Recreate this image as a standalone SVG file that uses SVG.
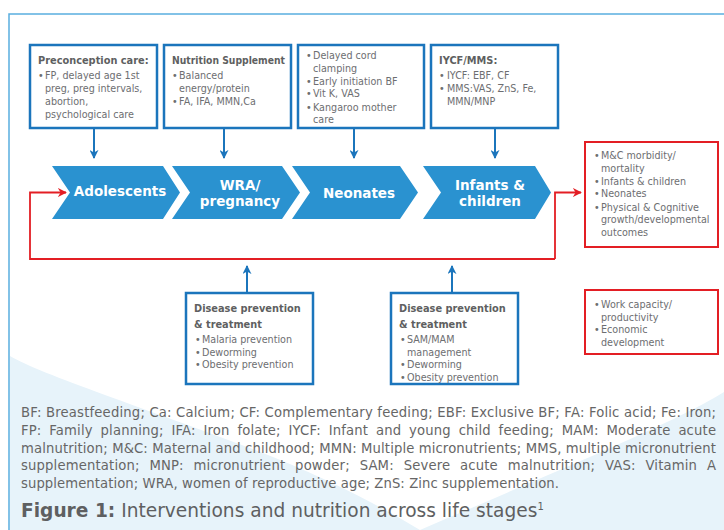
<svg xmlns="http://www.w3.org/2000/svg" width="724" height="530" viewBox="0 0 724 530">
<defs>
<style>
.box{fill:#fff;stroke:#1b75bc;stroke-width:2.5}
.rbox{fill:#fff;stroke:#e31e24;stroke-width:2}
.chev{fill:#2a92d0}
.t{font-family:"DejaVu Sans",sans-serif;font-size:9.6px;fill:#6d6e71}
.tb{font-family:"DejaVu Sans",sans-serif;font-size:9.8px;font-weight:bold;fill:#5e5f61}
.cl{font-family:"DejaVu Sans",sans-serif;font-size:13.5px;font-weight:bold;fill:#fff;text-anchor:middle}
.fn{font-family:"DejaVu Sans",sans-serif;font-size:13.2px;fill:#666}
.cap{font-family:"DejaVu Sans",sans-serif;font-size:18.6px;fill:#5e5f61}
.ba{stroke:#1b75bc;stroke-width:2;fill:none}
.ra{stroke:#e31e24;stroke-width:1.8;fill:none}
</style>
<marker id="mb" viewBox="0 0 10 10" refX="9" refY="5" markerWidth="9" markerHeight="9" markerUnits="userSpaceOnUse" orient="auto"><path d="M0,0 L10,5 L0,10 L3,5 z" fill="#1b75bc"/></marker>
<marker id="mr" viewBox="0 0 10 10" refX="9" refY="5" markerWidth="9" markerHeight="9" markerUnits="userSpaceOnUse" orient="auto"><path d="M0,0 L10,5 L0,10 L3,5 z" fill="#e31e24"/></marker>
</defs>
<rect x="0" y="0" width="724" height="530" fill="#fff"/>
<path d="M10,356 C40,374 150,410 250,448 C320,475 370,500 420,530 L10,530 Z" fill="#e7f3fa"/>
<path d="M724,392 C680,420 560,470 420,530 L724,530 Z" fill="#e7f3fa"/>
<path d="M9,530 V14 H724" fill="none" stroke="#5aaee0" stroke-width="1.5"/>

<g id="connectors">
<line class="ba" x1="94" y1="129" x2="94" y2="158" marker-end="url(#mb)"/>
<line class="ba" x1="224" y1="129" x2="224" y2="158" marker-end="url(#mb)"/>
<line class="ba" x1="354" y1="129" x2="354" y2="158" marker-end="url(#mb)"/>
<line class="ba" x1="495" y1="129" x2="495" y2="158" marker-end="url(#mb)"/>
<line class="ba" x1="247" y1="292" x2="247" y2="266" marker-end="url(#mb)"/>
<line class="ba" x1="452" y1="292" x2="452" y2="266" marker-end="url(#mb)"/>
<path class="ra" d="M555,259 V192.5 H581" marker-end="url(#mr)"/>
<path class="ra" d="M555,259 H30 V192.5 H66" marker-end="url(#mr)"/>
</g>

<g id="preconception">
<rect class="box" x="30" y="45" width="127" height="83"/>
<text class="tb" x="38" y="64.3">Preconception care:</text>
<text class="t" y="79.3"><tspan x="38">•</tspan><tspan x="45">FP, delayed age 1st</tspan></text>
<text class="t" x="45" y="92.3">preg, preg intervals,</text>
<text class="t" x="45" y="105.3">abortion,</text>
<text class="t" x="45" y="118.3">psychological care</text>
</g>

<g id="nutrition">
<rect class="box" x="164" y="45" width="127" height="83"/>
<text class="tb" x="172" y="64.3" textLength="113" lengthAdjust="spacingAndGlyphs">Nutrition Supplement</text>
<text class="t" y="79.3"><tspan x="172">•</tspan><tspan x="179">Balanced</tspan></text>
<text class="t" x="179" y="92.3">energy/protein</text>
<text class="t" y="105.3"><tspan x="172">•</tspan><tspan x="179">FA, IFA, MMN,Ca</tspan></text>
</g>

<g id="neonatal-care">
<rect class="box" x="298" y="45" width="126" height="83"/>
<text class="t" y="59"><tspan x="306">•</tspan><tspan x="313">Delayed cord</tspan></text>
<text class="t" x="313" y="71.5">clamping</text>
<text class="t" y="84.5"><tspan x="306">•</tspan><tspan x="313">Early initiation BF</tspan></text>
<text class="t" y="97"><tspan x="306">•</tspan><tspan x="313">Vit K, VAS</tspan></text>
<text class="t" y="110.5"><tspan x="306">•</tspan><tspan x="313">Kangaroo mother</tspan></text>
<text class="t" x="313" y="123">care</text>
</g>

<g id="iycf">
<rect class="box" x="431" y="45" width="127" height="83"/>
<text class="tb" x="439" y="64.3">IYCF/MMS:</text>
<text class="t" y="79.3"><tspan x="439">•</tspan><tspan x="447">IYCF: EBF, CF</tspan></text>
<text class="t" y="92.3"><tspan x="439">•</tspan><tspan x="447">MMS:VAS, ZnS, Fe,</tspan></text>
<text class="t" x="447" y="105.3">MMN/MNP</text>
</g>

<g id="adolescents">
<path class="chev" d="M52,166 H163 L180,192.5 L163,219 H52 L70,192.5 Z"/>
<text class="cl" x="120" y="196">Adolescents</text>
</g>
<g id="wra">
<path class="chev" d="M172,166 H282 L300,192.5 L282,219 H172 L190,192.5 Z"/>
<text class="cl" x="240" y="190">WRA/</text>
<text class="cl" x="240" y="205.5">pregnancy</text>
</g>
<g id="neonates">
<path class="chev" d="M292,166 H400 L418,192.5 L400,219 H292 L310,192.5 Z"/>
<text class="cl" x="359" y="197.5">Neonates</text>
</g>
<g id="infants">
<path class="chev" d="M423,166 H535 L551,192.5 L535,219 H423 L441,192.5 Z"/>
<text class="cl" x="490" y="190">Infants &amp;</text>
<text class="cl" x="490" y="205.5">children</text>
</g>

<g id="outcomes-health">
<rect class="rbox" x="585" y="142" width="133" height="105"/>
<text class="t" y="159"><tspan x="594">•</tspan><tspan x="601">M&amp;C morbidity/</tspan></text>
<text class="t" x="601" y="171.5">mortality</text>
<text class="t" y="184.5"><tspan x="594">•</tspan><tspan x="601">Infants &amp; children</tspan></text>
<text class="t" y="197"><tspan x="594">•</tspan><tspan x="601">Neonates</tspan></text>
<text class="t" y="210.5"><tspan x="594">•</tspan><tspan x="601">Physical &amp; Cognitive</tspan></text>
<text class="t" x="601" y="223">growth/developmental</text>
<text class="t" x="601" y="235.5">outcomes</text>
</g>

<g id="outcomes-economic">
<rect class="rbox" x="585" y="290" width="133" height="64"/>
<text class="t" y="308"><tspan x="594">•</tspan><tspan x="601">Work capacity/</tspan></text>
<text class="t" x="601" y="320.5">productivity</text>
<text class="t" y="333"><tspan x="594">•</tspan><tspan x="601">Economic</tspan></text>
<text class="t" x="601" y="345.5">development</text>
</g>

<g id="disease-wra">
<rect class="box" x="186" y="293" width="127" height="91"/>
<text class="tb" x="194" y="312">Disease prevention</text>
<text class="tb" x="194" y="327.5">&amp; treatment</text>
<text class="t" y="343"><tspan x="195">•</tspan><tspan x="202">Malaria prevention</tspan></text>
<text class="t" y="355.5"><tspan x="195">•</tspan><tspan x="202">Deworming</tspan></text>
<text class="t" y="368"><tspan x="195">•</tspan><tspan x="202">Obesity prevention</tspan></text>
</g>

<g id="disease-children">
<rect class="box" x="391" y="293" width="127" height="91"/>
<text class="tb" x="399" y="312">Disease prevention</text>
<text class="tb" x="399" y="327.5">&amp; treatment</text>
<text class="t" y="343"><tspan x="400">•</tspan><tspan x="407">SAM/MAM</tspan></text>
<text class="t" x="407" y="355.5">management</text>
<text class="t" y="368"><tspan x="400">•</tspan><tspan x="407">Deworming</tspan></text>
<text class="t" y="380.5"><tspan x="400">•</tspan><tspan x="407">Obesity prevention</tspan></text>
</g>

<g id="footnote">
<text class="fn" x="21" y="416.5" textLength="695" lengthAdjust="spacing">BF: Breastfeeding; Ca: Calcium; CF: Complementary feeding; EBF: Exclusive BF; FA: Folic acid; Fe: Iron;</text>
<text class="fn" x="21" y="435" word-spacing="3.5" textLength="695" lengthAdjust="spacing">FP: Family planning; IFA: Iron folate; IYCF: Infant and young child feeding; MAM: Moderate acute</text>
<text class="fn" x="21" y="452.5" textLength="695" lengthAdjust="spacing">malnutrition; M&amp;C: Maternal and childhood; MMN: Multiple micronutrients; MMS, multiple micronutrient</text>
<text class="fn" x="21" y="470" word-spacing="5.5" textLength="695" lengthAdjust="spacing">supplementation; MNP: micronutrient powder; SAM: Severe acute malnutrition; VAS: Vitamin A</text>
<text class="fn" x="21" y="487.5" textLength="538" lengthAdjust="spacing">supplementation; WRA, women of reproductive age; ZnS: Zinc supplementation.</text>
<text class="cap" x="21" y="516.5"><tspan font-weight="bold">Figure 1:</tspan> Interventions and nutrition across life stages<tspan font-size="10" dy="-7">1</tspan></text>
</g>
</svg>
